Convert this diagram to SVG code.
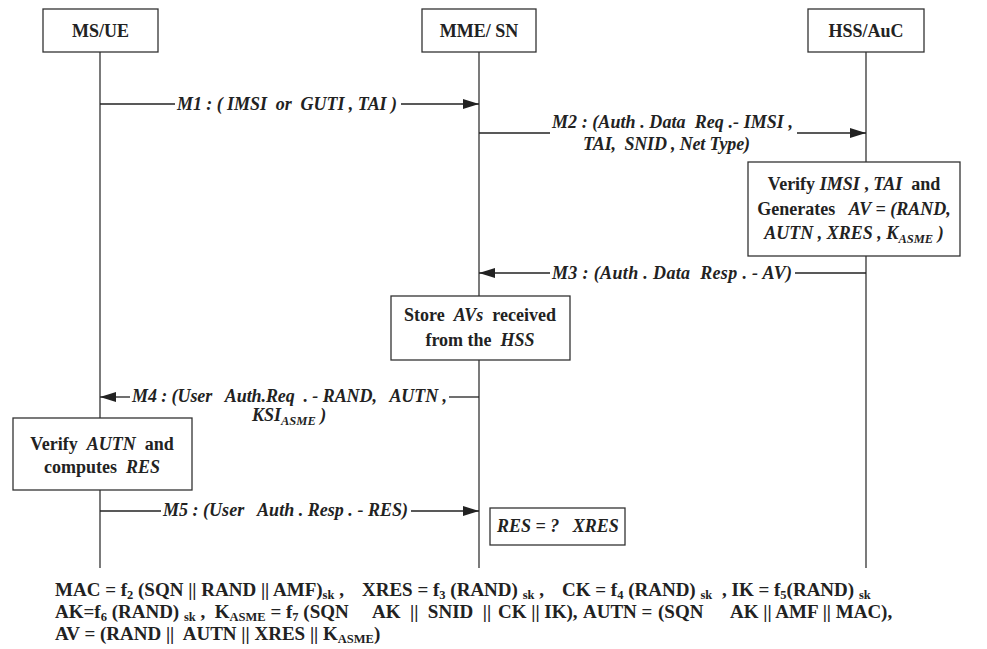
<svg xmlns="http://www.w3.org/2000/svg" width="987" height="649" viewBox="0 0 987 649">
<defs>
<marker id="ah" markerWidth="16" markerHeight="10" refX="16" refY="5" orient="auto" markerUnits="userSpaceOnUse">
<path d="M0,0 L16,5 L0,10 Z" fill="#222"/>
</marker>
<style>
text{font-family:'Liberation Serif','Times New Roman',Times,serif;white-space:pre;fill:#222}
.box{fill:#fff;stroke:#333;stroke-width:1.3}
.ll{stroke:#333;stroke-width:1.3;fill:none}
.msg{stroke:#222;stroke-width:1.3;fill:none}
.hd{font-size:18px;font-weight:bold;text-anchor:middle}
.lb{font-size:18px;font-weight:bold;font-style:italic}
.bx{font-size:18px;font-weight:bold;text-anchor:middle}
.it{font-style:italic}
.fm{font-size:19px;font-weight:bold}
.sb{font-size:12.5px}
</style>
</defs>
<rect width="987" height="649" fill="#fff"/>
<g id="lifelines">
<line class="ll" x1="100" y1="52" x2="100" y2="568"/>
<line class="ll" x1="479" y1="52" x2="479" y2="568"/>
<line class="ll" x1="866" y1="52" x2="866" y2="568"/>
</g>
<g id="ms-ue"><rect class="box" x="43" y="9" width="115" height="43"/><text class="hd" x="100.5" y="37">MS/UE</text></g>
<g id="mme-sn"><rect class="box" x="422" y="9" width="114" height="43"/><text class="hd" x="479" y="37">MME/ SN</text></g>
<g id="hss-auc"><rect class="box" x="808" y="9" width="116" height="43"/><text class="hd" x="866" y="37">HSS/AuC</text></g>
<g id="connectors">
<line class="msg" x1="100" y1="104" x2="175" y2="104"/>
<line class="msg" x1="401" y1="104" x2="479" y2="104" marker-end="url(#ah)"/>
<line class="msg" x1="479" y1="133" x2="550" y2="133"/>
<line class="msg" x1="797" y1="133" x2="866" y2="133" marker-end="url(#ah)"/>
<line class="msg" x1="866" y1="273" x2="795" y2="273"/>
<line class="msg" x1="550" y1="273" x2="479" y2="273" marker-end="url(#ah)"/>
<line class="msg" x1="479" y1="397" x2="449" y2="397"/>
<line class="msg" x1="130" y1="397" x2="100" y2="397" marker-end="url(#ah)"/>
<line class="msg" x1="100" y1="511" x2="161" y2="511"/>
<line class="msg" x1="411" y1="511" x2="479" y2="511" marker-end="url(#ah)"/>
</g>
<g id="labels">
<text class="lb" x="177" y="110" textLength="220">M1 : ( IMSI  or  GUTI , TAI )</text>
<text class="lb" x="552" y="128" textLength="241">M2 : (Auth . Data  Req .- IMSI ,</text>
<text class="lb" x="583" y="150" textLength="167">TAI,  SNID , Net Type)</text>
<text class="lb" x="552" y="279" textLength="240">M3 : (Auth . Data  Resp . - AV)</text>
<text class="lb" x="132" y="402" textLength="315">M4 : (User   Auth.Req  . - RAND,   AUTN ,</text>
<text class="lb" x="252" y="421">KSI<tspan class="sb" dy="4">ASME</tspan><tspan dy="-4"> )</tspan></text>
<text class="lb" x="163" y="516" textLength="245">M5 : (User   Auth . Resp . - RES)</text>
</g>
<g id="verify-hss"><rect class="box" x="748" y="162" width="212" height="94"/>
<text class="bx" x="854" y="190">Verify <tspan class="it">IMSI</tspan> , <tspan class="it">TAI</tspan>  and</text>
<text class="bx" x="854" y="215">Generates   <tspan class="it">AV = (RAND,</tspan></text>
<text class="bx" x="854" y="239"><tspan class="it">AUTN , XRES , K<tspan class="sb" dy="4">ASME</tspan><tspan dy="-4"> )</tspan></tspan></text>
</g>
<g id="store-mme"><rect class="box" x="391" y="296" width="179" height="64"/>
<text class="bx" x="480" y="321">Store  <tspan class="it">AVs</tspan>  received</text>
<text class="bx" x="480" y="346">from the  <tspan class="it">HSS</tspan></text>
</g>
<g id="verify-ue"><rect class="box" x="13" y="418" width="179" height="72"/>
<text class="bx" x="102" y="450">Verify  <tspan class="it">AUTN</tspan>  and</text>
<text class="bx" x="102" y="473">computes  <tspan class="it">RES</tspan></text>
</g>
<g id="res-check"><rect class="box" x="490" y="508" width="135" height="37"/>
<text class="lb" x="497" y="532">RES = ?   XRES</text>
</g>
<g id="formulas">
<text class="fm" y="596"><tspan x="55" y="596">MAC = f</tspan><tspan class="sb" dy="3">2</tspan><tspan dy="-3"> (SQN || RAND || AMF)</tspan><tspan class="sb" dy="3">sk</tspan><tspan dy="-3"> ,</tspan><tspan x="362" y="596">XRES = f</tspan><tspan class="sb" dy="3">3</tspan><tspan dy="-3"> (RAND) </tspan><tspan class="sb" dy="3">sk</tspan><tspan dy="-3"> ,</tspan><tspan x="562" y="596">CK = f</tspan><tspan class="sb" dy="3">4</tspan><tspan dy="-3"> (RAND) </tspan><tspan class="sb" dy="3">sk</tspan><tspan x="722" y="596">, IK = f</tspan><tspan class="sb" dy="3">5</tspan><tspan dy="-3">(RAND) </tspan><tspan class="sb" dy="3">sk</tspan></text>
<text class="fm" y="618"><tspan x="55" y="618">AK=f</tspan><tspan class="sb" dy="3">6</tspan><tspan dy="-3"> (RAND) </tspan><tspan class="sb" dy="3">sk</tspan><tspan dy="-3"> ,  K</tspan><tspan class="sb" dy="3">ASME</tspan><tspan dy="-3"> = f</tspan><tspan class="sb" dy="3">7</tspan><tspan dy="-3"> (SQN</tspan><tspan x="372" y="618">AK  ||  SNID  ||</tspan><tspan x="498" y="618">CK || IK),</tspan><tspan x="583" y="618">AUTN =</tspan><tspan x="658" y="618">(SQN</tspan><tspan x="730" y="618">AK || AMF || MAC),</tspan></text>
<text class="fm" y="640"><tspan x="55" y="640">AV = (RAND ||  AUTN || XRES || K</tspan><tspan class="sb" dy="3">ASME</tspan><tspan dy="-3">)</tspan></text>
</g>
</svg>
